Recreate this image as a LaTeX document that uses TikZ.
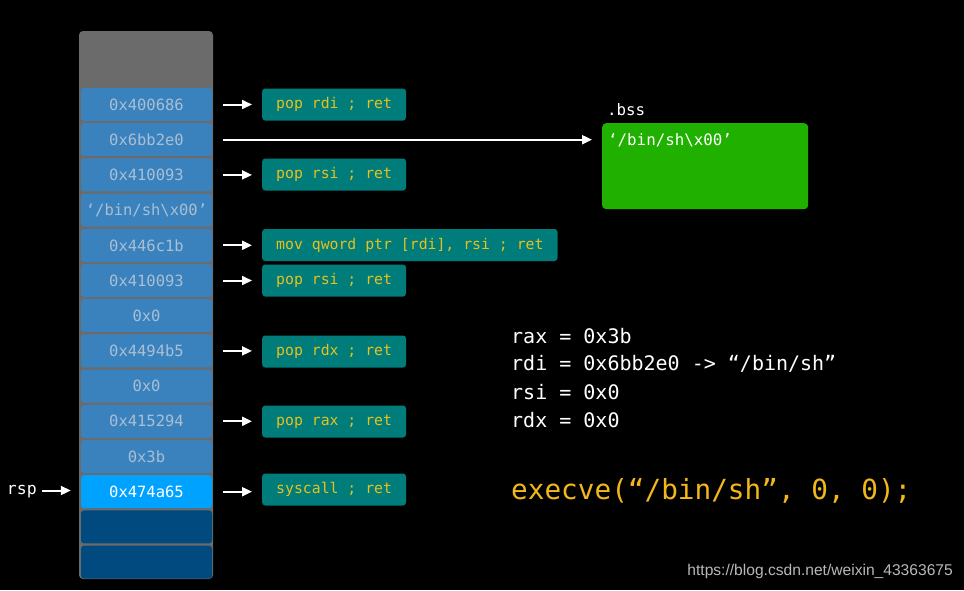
\documentclass[tikz,border=0pt]{standalone}
\usepackage{fontspec}
\setmonofont{DejaVu Sans Mono}
\newfontfamily\wmfont{Liberation Sans}
\usetikzlibrary{arrows.meta}
\definecolor{cellblue}{HTML}{3A82BE}
\definecolor{celltxt}{HTML}{A9BFD3}
\definecolor{hiblue}{HTML}{00A2FF}
\definecolor{darkblue}{HTML}{004A80}
\definecolor{stackgray}{HTML}{6B6B6B}
\definecolor{teal}{HTML}{007C7A}
\definecolor{gadtxt}{HTML}{E6C21E}
\definecolor{bssgreen}{HTML}{1FB000}
\definecolor{execyel}{HTML}{F2B81A}
\definecolor{wmgray}{HTML}{B8B8B8}
\begin{document}
\begin{tikzpicture}[x=1pt,y=-1pt,
  cell/.style={fill=cellblue,text=celltxt,rounded corners=3pt,minimum width=131pt,minimum height=33pt,inner sep=0pt,font=\ttfamily\fontsize{15.5}{18}\selectfont},
  gadget/.style={fill=teal,text=gadtxt,rounded corners=3pt,minimum height=32pt,inner xsep=14pt,inner ysep=0pt,anchor=west,font=\ttfamily\fontsize{14.8}{18}\selectfont},
  arr/.style={white,line width=2pt,-{Triangle[length=10pt,width=9pt]}},
  plain/.style={text=white,font=\ttfamily\fontsize{15.8}{19}\selectfont,inner sep=0pt},
  reg/.style={text=white,font=\ttfamily\fontsize{20}{24}\selectfont,inner sep=0pt,anchor=west}]
\fill[black] (0,0) rectangle (964,590);
\useasboundingbox (0,0) rectangle (964,590);
% stack
\node[fill=stackgray,rounded corners=4pt,minimum width=134pt,minimum height=548pt,inner sep=0pt] (stack) at (146,305) {};
\foreach \i/\t in {1/0x400686,2/0x6bb2e0,3/0x410093,4/{‘/bin/sh\textbackslash x00’},5/0x446c1b,6/0x410093,7/0x0,8/0x4494b5,9/0x0,10/0x415294,11/0x3b}{
  \node[cell] (c\i) at (146.5,{104.5+35.2*(\i-1)}) {\t};
}
\node[cell,fill=hiblue,text=white] (c12) at (146.5,{104.5+35.2*11}) {0x474a65};
\node[cell,fill=darkblue] (c13) at (146.5,{104.5+35.2*12}) {};
\node[cell,fill=darkblue] (c14) at (146.5,{104.5+35.2*13}) {};
% gadgets
\node[gadget] (g1) at (262,104.5) {pop rdi ; ret};
\node[gadget] (g3) at (262,174.5) {pop rsi ; ret};
\node[gadget] (g5) at (262,245) {mov qword ptr [rdi], rsi ; ret};
\node[gadget] (g6) at (262,280.5) {pop rsi ; ret};
\node[gadget] (g8) at (262,351.5) {pop rdx ; ret};
\node[gadget] (g10) at (262,421.5) {pop rax ; ret};
\node[gadget] (g12) at (262,489.5) {syscall ; ret};
\foreach \a/\b in {1/1,3/3,5/5,6/6,8/8,10/10,12/12}{
  \draw[arr] ([xshift=11pt]c\a.east) -- ([xshift=-10pt]c\a.east -| g\b.west);
}
% bss
\node[fill=bssgreen,rounded corners=4pt,minimum width=206pt,minimum height=86pt,inner sep=0pt,anchor=north west] (bss) at (602,123) {};
\node[plain,anchor=west] (bsslbl) at (607,110) {.bss};
\node[plain,anchor=west] (bsstxt) at (608,140) {‘/bin/sh\textbackslash x00’};
\draw[arr] ([xshift=11pt]c2.east) -- ([xshift=-10pt]c2.east -| bss.west);
% rsp
\node[plain,anchor=east,font=\ttfamily\fontsize{16.5}{19}\selectfont] (rsp) at (37,492) {rsp};
\coordinate (rspa) at (42,490.5);
\draw[arr] (rspa) -- ([xshift=-10pt]c12.west |- rspa);
% registers
\node[reg] (r1) at (511,336) {rax = 0x3b};
\node[reg] (r2) at (511,364) {rdi = 0x6bb2e0 -> “/bin/sh”};
\node[reg] (r3) at (511,392) {rsi = 0x0};
\node[reg] (r4) at (511,420) {rdx = 0x0};
\node[reg,text=execyel,font=\ttfamily\fontsize{27.7}{32}\selectfont] (ex) at (511,491) {execve(“/bin/sh”, 0, 0);};
% watermark
\node[text=wmgray,font=\wmfont\fontsize{15.6}{18}\selectfont,anchor=east,inner sep=0pt] (wm) at (953,571) {https://blog.csdn.net/weixin\_43363675};
\end{tikzpicture}
\end{document}
